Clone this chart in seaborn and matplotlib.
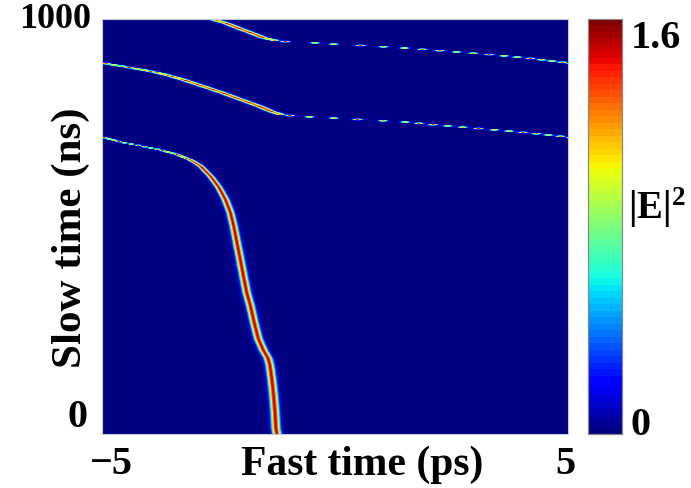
import numpy as np
import matplotlib
matplotlib.use("Agg")
import matplotlib.pyplot as plt
import seaborn as sns
from matplotlib.transforms import ScaledTranslation

# ---- data ----
# pass 1: main soliton, from the bottom up to the left edge
pass1_slow_ns = [0, 12, 52, 92, 133, 165, 182, 201, 229, 269, 309, 341, 381, 422,
                 462, 502, 534, 566, 595, 622, 647, 661, 674, 685, 695, 704, 716]
pass1_fast_ps = [-1.25, -1.27, -1.29, -1.32, -1.36, -1.40, -1.44, -1.54, -1.65, -1.74,
                 -1.82, -1.90, -1.97, -2.04, -2.11, -2.18, -2.25, -2.36, -2.50, -2.68,
                 -2.90, -3.11, -3.40, -3.76, -4.19, -4.61, -5.00]
pass1_width_slow_ns = [0, 400, 560, 640, 690, 716]
pass1_width_ps = [0.064, 0.060, 0.056, 0.048, 0.042, 0.040]
# pass 2: re-enters at the right edge
pass2_slow_ns = [716, 725, 732.5, 739, 746, 753.5, 757.4, 761.4, 767, 771, 779, 789.6,
                 807.2, 824.8, 841, 857, 870, 879.5, 887.5, 895]
pass2_fast_ps = [5.00, 4.26, 3.54, 2.83, 2.11, 1.40, 0.68, 0.03, -0.90, -1.18, -1.40,
                 -1.61, -2.04, -2.47, -2.90, -3.33, -3.76, -4.19, -4.61, -5.00]
# pass 3: re-enters at the right edge again, leaves through the top
pass3_slow_ns = [895, 905.3, 913.3, 919.8, 926, 931.8, 936.6, 940.5, 943.9, 946.3,
                 950.1, 955.9, 965.5, 977.5, 990.4, 1000]
pass3_fast_ps = [5.00, 4.26, 3.54, 2.83, 2.11, 1.40, 0.68, -0.04, -0.47, -1.04, -1.32,
                 -1.54, -1.75, -2.04, -2.33, -2.62]
thin_width_ps = 0.065
peak_intensity = 1.5

x_tick_labels = ["\u22125", "5"]
y_tick_labels = ["0", "1000"]
cbar_tick_labels = ["0", "1.6"]
vmin, vmax = 0.0, 1.6

# ---- build the |E|^2 map on the simulation's slow-time sampling ----
n_rows, n_fast = 320, 466
slow = np.linspace(0, 1000, n_rows)
fast = np.linspace(-5, 5, n_fast)
field_c = np.zeros((n_rows, n_fast))
passes = [
    (pass1_slow_ns, pass1_fast_ps, pass1_width_slow_ns, pass1_width_ps),
    (pass2_slow_ns, pass2_fast_ps, [0, 1000], [thin_width_ps, thin_width_ps]),
    (pass3_slow_ns, pass3_fast_ps, [0, 1000], [thin_width_ps, thin_width_ps]),
]
for ps_T, ps_t, w_T, w_v in passes:
    mask = (slow >= ps_T[0]) & (slow <= ps_T[-1])
    c = np.interp(slow[mask], ps_T, ps_t)[:, None]
    w = np.interp(slow[mask], w_T, w_v)[:, None]
    rows = np.zeros((mask.sum(), n_fast))
    for k in (-10.0, 0.0, 10.0):
        rows += np.exp(-((fast[None, :] - c + k) ** 2) / (2 * w ** 2))
    field_c[mask] = np.maximum(field_c[mask], peak_intensity * rows)

# bilinear display smoothing between sampled rows, one display row per pixel
n_disp = 415
pos = np.linspace(0, n_rows - 1, n_disp)
i0 = np.minimum(np.floor(pos).astype(int), n_rows - 2)
f = (pos - i0)[:, None]
field = (1 - f) * field_c[i0] + f * field_c[i0 + 1]

# ---- figure ----
sns.set_theme(style="white")
plt.rcParams["font.family"] = ["Liberation Serif", "DejaVu Serif"]
plt.rcParams["font.weight"] = "bold"
plt.rcParams["mathtext.fontset"] = "custom"
plt.rcParams["mathtext.rm"] = "Liberation Serif:bold"
plt.rcParams["mathtext.bf"] = "Liberation Serif:bold"
plt.rcParams["mathtext.it"] = "Liberation Serif:bold"
for key in ("text.color", "axes.labelcolor", "xtick.color", "ytick.color"):
    plt.rcParams[key] = "black"

W, H = 691, 489
fig = plt.figure(figsize=(W / 100, H / 100), dpi=100)
ax = fig.add_axes([102 / W, 1 - 435 / H, 466 / W, 415 / H])
cax = fig.add_axes([588 / W, 1 - 435 / H, 34 / W, 415 / H])

cmap = plt.get_cmap("jet", 64)
sns.heatmap(field, ax=ax, cmap=cmap, vmin=vmin, vmax=vmax, cbar_ax=cax,
            xticklabels=False, yticklabels=False, rasterized=True)
ax.invert_yaxis()

ax.set_xticks([0, n_fast])
ax.set_xticklabels(x_tick_labels, fontsize=29, fontweight="bold")
ax.set_yticks([0, n_disp])
ax.set_yticklabels(y_tick_labels, fontsize=29, fontweight="bold", rotation=0)
ax.tick_params(length=0, pad=8)

dpi = fig.dpi
def shift(lbl, dx, dy):
    lbl.set_transform(lbl.get_transform() + ScaledTranslation(dx / dpi, dy / dpi, fig.dpi_scale_trans))

xl = ax.get_xticklabels()
shift(xl[0], 9, 0)
shift(xl[1], -3, 0)
yl = ax.get_yticklabels()
yl[0].set_va("baseline")
shift(yl[0], -3, 8)
yl[1].set_fontsize(26)
yl[1].set_va("center")

for s in ax.spines.values():
    s.set_visible(True)
    s.set_color("#c8c8d8")
    s.set_linewidth(0.8)

ax.set_xlabel("Fast time (ps)", fontsize=30, fontweight="bold")
ax.xaxis.set_label_coords((362 - 102) / 466, (435 - 465) / 415)
ax.xaxis.label.set_va("center")
ax.set_ylabel("Slow time (ns)", fontsize=31, fontweight="bold")
ax.yaxis.set_label_coords((71 - 102) / 466, (435 - 238) / 415)
ax.yaxis.label.set_va("center")
ax.yaxis.label.set_ha("center")

# colorbar
cax.set_yticks([vmin, vmax])
cax.set_yticklabels(cbar_tick_labels, fontsize=29, fontweight="bold")
cl = cax.get_yticklabels()
cl[0].set_va("baseline")
shift(cl[0], 4, -2)
cl[1].set_va("top")
shift(cl[1], 0, 10)
cax.set_yticks(np.arange(0.2, 1.6, 0.2), minor=True)
cax.tick_params(axis="y", which="major", length=0, pad=6)
cax.tick_params(axis="y", which="minor", direction="in", length=3, width=0.8,
                color="#333333", right=True, left=False)
for s in cax.spines.values():
    s.set_visible(True)
    s.set_color("#888888")
    s.set_linewidth(0.8)
fig.text(657 / W, 1 - 208 / H, r"$|\mathbf{E}|^{2}$", fontsize=28, ha="center", va="center")

fig.savefig("out.png", dpi=100, facecolor="white")
